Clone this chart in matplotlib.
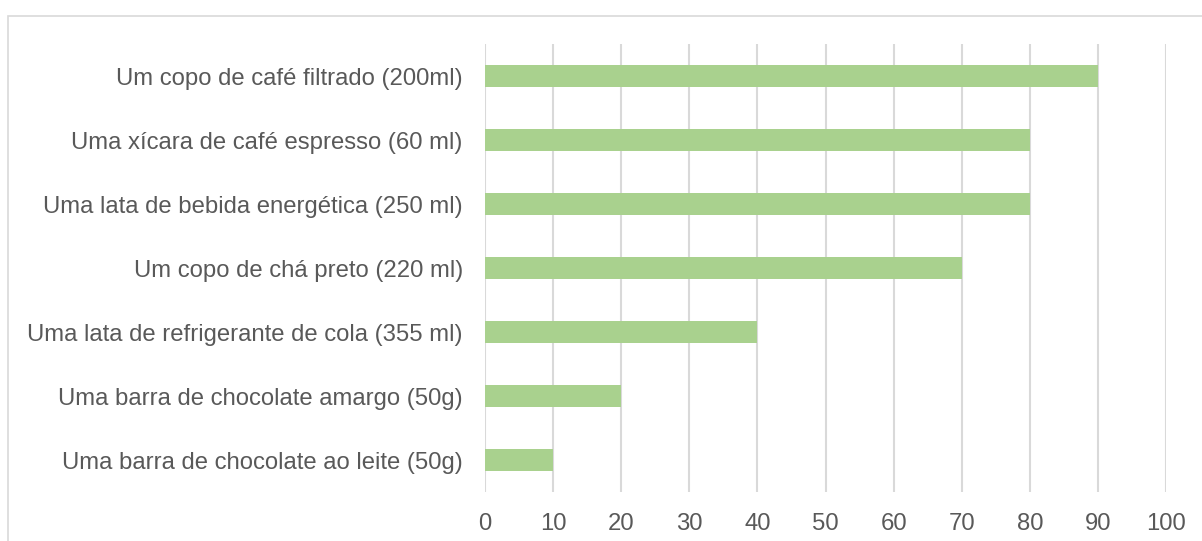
import matplotlib.pyplot as plt
from matplotlib.patches import Rectangle

labels = [
    'Um copo de café filtrado (200ml)',
    'Uma xícara de café espresso (60 ml)',
    'Uma lata de bebida energética (250 ml)',
    'Um copo de chá preto (220 ml)',
    'Uma lata de refrigerante de cola (355 ml)',
    'Uma barra de chocolate amargo (50g)',
    'Uma barra de chocolate ao leite (50g)',
]
values = [90, 80, 80, 70, 40, 20, 10]
xticks = list(range(0, 101, 10))

plt.rcParams['font.family'] = ['Liberation Sans', 'DejaVu Sans']
text_color = '#595959'
grid_color = '#D9D9D9'

W, H = 1202, 541
fig = plt.figure(figsize=(W / 100, H / 100), dpi=100)
ax = fig.add_axes([485 / W, 1 - 492 / H, (1166 - 485) / W, (492 - 44) / H])

# рамка вокруг диаграммы (видны только верх и левый край)
fig.patches.append(Rectangle((8 / W, -0.1), 1.2, 1 - 16 / H + 0.1,
                             transform=fig.transFigure, fill=False,
                             edgecolor=grid_color, linewidth=1.2))

pos = list(range(len(labels)))
ax.barh(pos, values, height=0.34, color='#A9D18E', zorder=3)

ax.set_ylim(len(labels) - 0.5, -0.5)
ax.set_xlim(0, 100)
ax.set_xticks(xticks)
ax.set_yticks(pos)
ax.set_yticklabels(labels)

ax.grid(axis='x', color=grid_color, linewidth=1.5, zorder=0)
for s in ax.spines.values():
    s.set_visible(False)
ax.tick_params(axis='both', length=0, colors=text_color, labelsize=17.2)
ax.tick_params(axis='y', pad=16)
ax.tick_params(axis='x', pad=15)

fig.savefig('out.png', dpi=100)
